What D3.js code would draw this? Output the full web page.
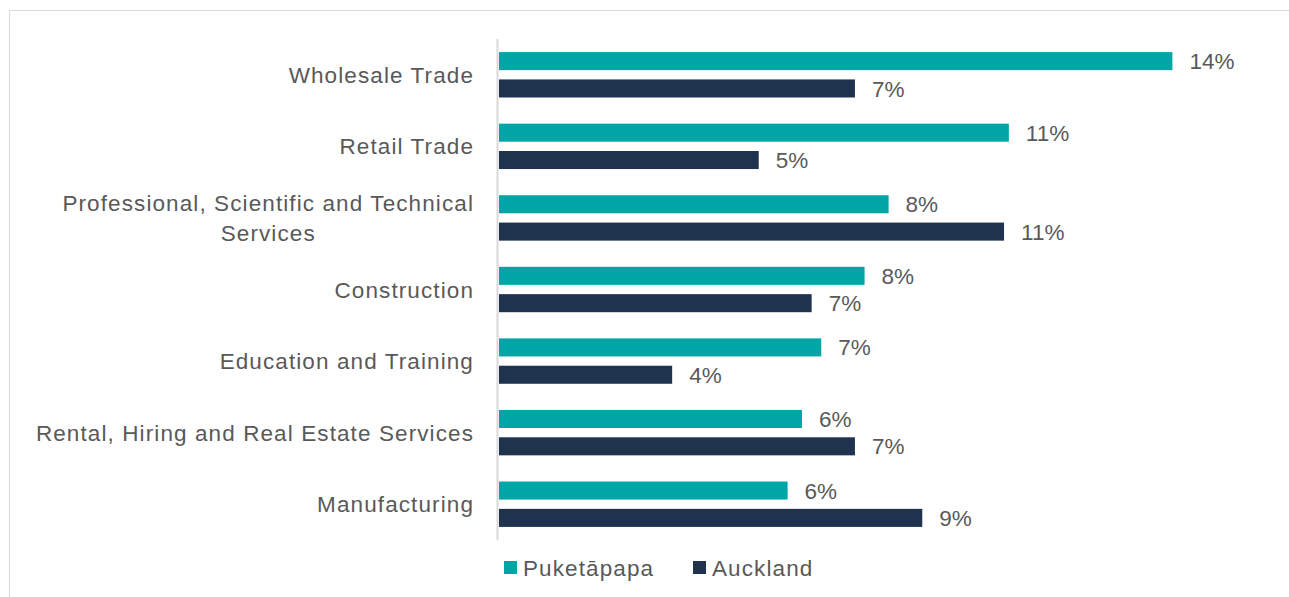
<!DOCTYPE html>
<html>
<head>
<meta charset="utf-8">
<script src="https://cdn.jsdelivr.net/npm/d3@7"></script>
<style>
  body { margin: 0; background: #fff; }
  svg { display: block; font-family: "Liberation Sans", Arial, sans-serif; }
</style>
</head>
<body>
<svg id="chart" width="1289" height="597"></svg>
<script>
const categories = [
  ["Wholesale Trade"],
  ["Retail Trade"],
  ["Professional, Scientific and Technical", "Services"],
  ["Construction"],
  ["Education and Training"],
  ["Rental, Hiring and Real Estate Services"],
  ["Manufacturing"]
];
const seriesNames = ["Puketāpapa", "Auckland"];
const puketapapa = [14.0, 10.6, 8.1, 7.6, 6.7, 6.3, 6.0];
const auckland   = [7.4, 5.4, 10.5, 6.5, 3.6, 7.4, 8.8];
const colors = ["#00A6A6", "#1F324E"];

const svg = d3.select("#chart");
const W = 1289, H = 597;
const FS = 22.5;
const LS = 1.1;

// outer border
svg.append("rect").attr("x", 9.5).attr("y", 10.5).attr("width", W).attr("height", H)
  .attr("fill", "#fff").attr("stroke", "#d9d9d9").attr("stroke-width", 1);

const x0 = 499;
const x = d3.scaleLinear().domain([0, 15]).range([x0, x0 + 15 * 48.1]);
const y = d3.scaleBand().domain(d3.range(categories.length)).range([39, 540]).paddingInner(0).paddingOuter(0);
const inner = d3.scaleBand().domain([0, 1]).range([y.bandwidth() / 2 - 22.7, y.bandwidth() / 2 + 22.7]).paddingInner(0.34);

const data = [puketapapa, auckland];

// bars
data.forEach((vals, s) => {
  svg.append("g").selectAll("rect").data(vals).join("rect")
    .attr("x", x(0))
    .attr("y", (d, i) => y(i) + inner(s))
    .attr("width", d => x(d) - x(0))
    .attr("height", inner.bandwidth())
    .attr("fill", colors[s]);
  svg.append("g").selectAll("text").data(vals).join("text")
    .attr("x", d => x(d) + 17)
    .attr("y", (d, i) => y(i) + inner(s) + inner.bandwidth() / 2)
    .attr("dy", "0.36em")
    .attr("font-size", FS)
    .attr("fill", "#595959")
    .text(d => Math.round(d) + "%");
});

// axis line
svg.append("line").attr("x1", 497.5).attr("x2", 497.5).attr("y1", 39).attr("y2", 540)
  .attr("stroke", "#d9d9d9").attr("stroke-width", 2);

// category labels
const labelRight = 474;
categories.forEach((lines, i) => {
  const cy = y(i) + y.bandwidth() / 2;
  const g = svg.append("g");
  const n = lines.length;
  const lh = 30;
  const texts = lines.map((ln, k) => g.append("text")
    .attr("y", cy + (k - (n - 1) / 2) * lh)
    .attr("dy", "0.36em")
    .attr("font-size", FS)
    .attr("letter-spacing", LS)
    .attr("fill", "#595959")
    .text(ln));
  const widths = texts.map(t => t.node().getComputedTextLength());
  const maxW = d3.max(widths);
  const center = labelRight - maxW / 2;
  texts.forEach(t => t.attr("x", center).attr("text-anchor", "middle"));
});

// legend
const legendX = [504, 693];
seriesNames.forEach((name, s) => {
  svg.append("rect").attr("x", legendX[s]).attr("y", 561).attr("width", 13).attr("height", 13)
    .attr("fill", colors[s]);
  svg.append("text").attr("x", legendX[s] + 19).attr("y", 567.5).attr("dy", "0.36em")
    .attr("font-size", FS).attr("letter-spacing", LS).attr("fill", "#595959").text(name);
});
</script>
</body>
</html>
